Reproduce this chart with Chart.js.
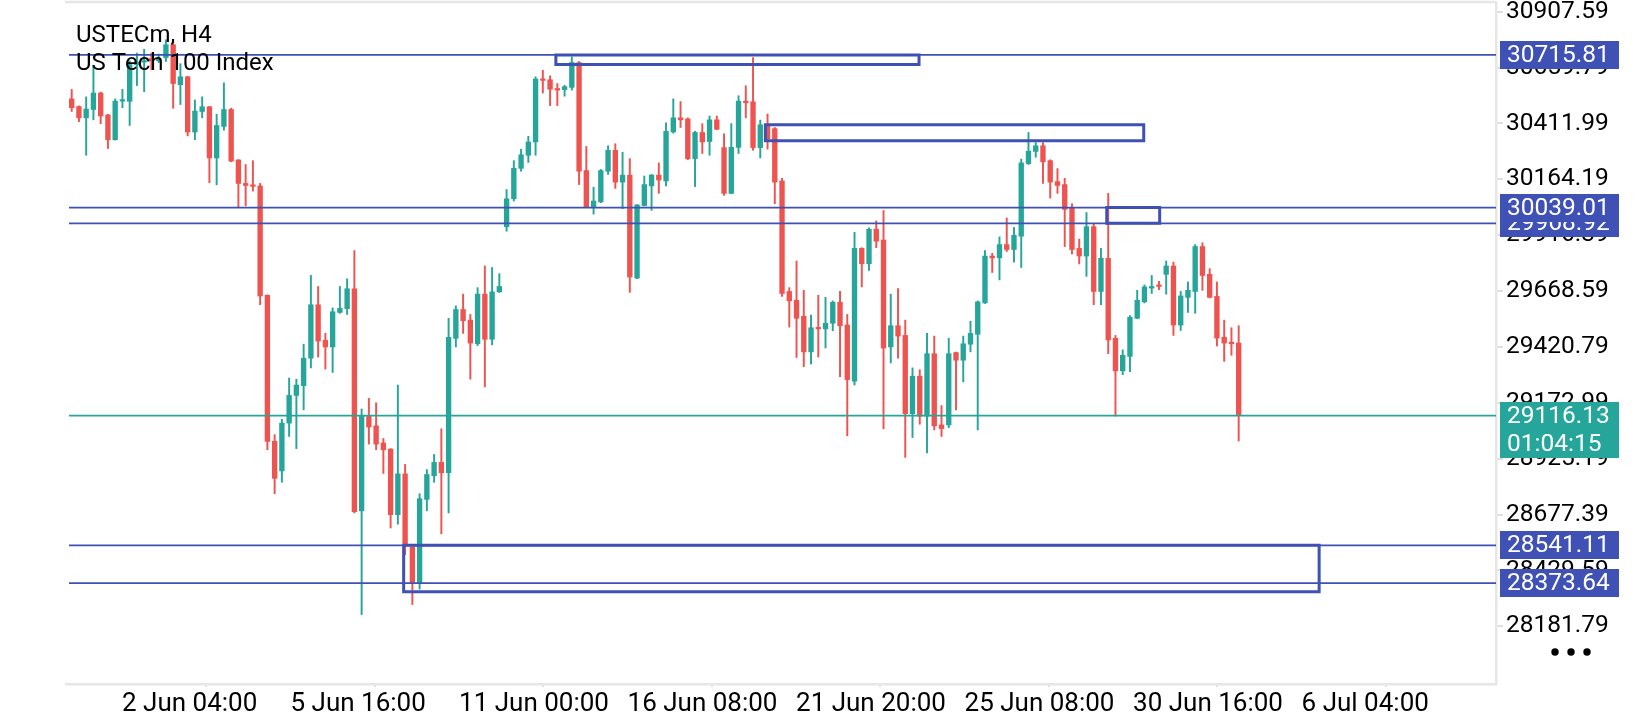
<!DOCTYPE html>
<html>
<head>
<meta charset="utf-8">
<script src="https://cdn.jsdelivr.net/npm/chart.js@4.4.1/dist/chart.umd.min.js"></script>
<style>
html,body{margin:0;padding:0;background:#fff;overflow:hidden}
#wrap{width:1640px;height:720px;position:relative}
</style>
</head>
<body>
<div id="wrap"><canvas id="c" width="1640" height="720"></canvas></div>
<script>
// ---------- data ----------
const symbolTitle = "USTECm, H4";
const symbolDescription = "US Tech 100 Index";

const opens = [30521,30487,30437,30474,30547,30450,30340,30511,30510,30672,30684,30700,30690,30704,30761,30584,30619,30374,30465,30486,30259,30399,30474,30250,30146,30140,30135,29650,29003,28871,29083,29206,29249,29371,29608,29450,29421,29574,29591,29679,28694,29113,29071,28995,28968,28677,28858,28533,28376,28745,28850,28909,28863,29459,29587,29540,29435,29655,29455,29665,29954,30078,30213,30271,30330,30609,30606,30567,30562,30572,30682,30203,30042,30064,30200,30293,30152,30183,29726,30048,30135,30183,30157,30374,30437,30432,30256,30372,30332,30428,30305,30102,30306,30511,30508,30305,30403,30389,30157,29667,29628,29557,29399,29506,29501,29526,29619,29518,29269,29858,29790,29943,29895,29421,29515,29472,29125,29291,29114,29391,29075,29075,29396,29362,29433,29477,29616,29824,29816,29875,29853,29912,30234,30288,30313,30247,30154,30141,30039,29858,29824,29954,29667,29814,29459,29315,29379,29548,29621,29682,29696,29743,29780,29518,29641,29667,29866,29743,29645,29464,29442,29438];
const highs = [30563,30490,30530,30665,30551,30452,30521,30563,30690,30724,30741,30724,30720,30783,30775,30677,30621,30516,30530,30488,30453,30592,30479,30252,30230,30247,30146,29652,29032,29100,29283,29278,29433,29738,29689,29481,29594,29689,29723,29848,29146,29193,29173,29015,28970,29252,28900,28535,28770,28877,28944,29058,29548,29603,29655,29565,29684,29780,29773,29746,30119,30247,30298,30355,30619,30648,30623,30589,30581,30707,30687,30310,30129,30208,30313,30322,30284,30256,30052,30179,30186,30237,30415,30521,30509,30437,30377,30411,30445,30445,30366,30411,30535,30579,30704,30427,30454,30394,30169,29684,29802,29672,29562,29650,29641,29625,29667,29565,29929,29861,29949,29980,30026,29655,29680,29540,29328,29320,29481,29469,29161,29459,29398,29469,29535,29625,29848,29836,29909,29993,29951,30254,30372,30327,30327,30251,30212,30169,30056,29899,30017,29966,29858,30102,29472,29408,29560,29672,29696,29738,29712,29802,29797,29667,29709,29875,29883,29768,29709,29540,29506,29515];
const lows = [30465,30420,30271,30428,30411,30301,30338,30482,30403,30580,30553,30650,30682,30687,30479,30496,30357,30340,30437,30149,30140,30382,30242,30039,30047,30112,29608,28965,28770,28821,29024,28970,29142,29328,29376,29323,29308,29570,29565,28685,28234,28990,28965,28860,28618,28635,28499,28279,28347,28694,28821,28592,28685,29421,29481,29278,29427,29244,29430,29663,29934,30068,30200,30239,30271,30547,30491,30491,30533,30560,30141,30039,30010,30061,30186,30124,30034,29663,29724,30046,30027,30102,30135,30369,30394,30251,30132,30279,30271,30384,30093,30100,30279,30437,30293,30259,30298,30056,29645,29509,29374,29333,29345,29376,29416,29493,29289,29027,29252,29687,29760,29861,29058,29350,29371,28931,29019,29078,28951,29053,29024,29063,29142,29266,29399,29053,29614,29751,29718,29844,29797,29773,30230,30262,30146,30081,30102,29866,29833,29789,29734,29608,29608,29391,29114,29298,29311,29546,29616,29658,29675,29655,29472,29494,29574,29570,29672,29638,29425,29357,29384,29004];
const closes = [30482,30437,30476,30547,30445,30340,30511,30513,30673,30684,30690,30690,30700,30761,30589,30619,30374,30467,30486,30259,30403,30474,30245,30146,30137,30133,29647,29002,28838,29083,29206,29252,29371,29608,29447,29421,29577,29592,29679,28690,29117,29066,28990,28965,28677,28858,28542,28376,28748,28855,28909,28863,29464,29587,29537,29438,29655,29455,29665,29689,30078,30213,30273,30330,30609,30603,30564,30560,30575,30682,30200,30042,30068,30203,30293,30152,30183,29731,30051,30141,30183,30161,30377,30437,30428,30256,30372,30330,30428,30386,30102,30306,30511,30504,30305,30406,30344,30152,29658,29625,29548,29399,29506,29501,29526,29619,29515,29276,29858,29790,29943,29890,29416,29515,29469,29125,29291,29114,29391,29071,29059,29391,29362,29435,29481,29621,29824,29816,29875,29853,29916,30237,30289,30313,30242,30152,30137,30031,29853,29824,29954,29667,29814,29452,29315,29384,29553,29628,29687,29689,29689,29780,29518,29647,29672,29866,29738,29641,29460,29438,29435,29116.13];

// price-axis tick labels
const yTickValues = [30907.59,30659.79,30411.99,30164.19,29916.39,29668.59,29420.79,29172.99,28925.19,28677.39,28429.59,28181.79];
// time-axis labels and the bar they sit on
const xTickLabels = ["2 Jun 04:00","5 Jun 16:00","11 Jun 00:00","16 Jun 08:00","21 Jun 20:00","25 Jun 08:00","30 Jun 16:00","6 Jul 04:00"];
const xTickBars = [6.94,30.19,53.44,76.69,99.93,123.18,146.43,169.68];

// horizontal levels (blue) and their axis labels
const levelPrices = [30715.81,30039.01,29968.92,28541.11,28373.64];
const levelLabels = ["30715.81","30039.01","29968.92","28541.11","28373.64"];
// current bid line and bar countdown
const bidPrice = 29116.13;
const bidLabel = "29116.13";
const barCountdown = "01:04:15";

// rectangle zones: start bar, end bar, upper price, lower price
const zoneStartBar = [66.8,95.7,142.8,45.8];
const zoneEndBar   = [116.9,147.9,150.1,172.1];
const zoneHigh     = [30715.81,30406,30039.01,28541.11];
const zoneLow      = [30673.5,30335,29968.92,28335];

// visible range of the chart
const xMin = -0.37, xMax = 196.5;
const yMin = 27926.2, yMax = 30950.6;

// ---------- styles ----------
const UP = '#26a69a', DOWN = '#ef5350', BLUE = '#3f51b5', TEAL = '#26a69a';
const FONT = 'Roboto';
const FRAME = '#e6e6e6';

const bodyColors = opens.map((o,i)=> closes[i] >= o ? UP : DOWN);

const datasets = [];
// wicks
datasets.push({
  type:'bar', label:'wick', order:6, grouped:false,
  data: lows.map((l,i)=>({x:i, y:[l, highs[i]]})),
  backgroundColor: bodyColors, borderWidth:0, barThickness:1.3
});
// bodies
datasets.push({
  type:'bar', label:'body', order:5, grouped:false,
  data: opens.map((o,i)=>({x:i, y:[o, closes[i]]})),
  backgroundColor: bodyColors, borderWidth:0, barThickness:4.7, minBarLength:1.5
});
// zones
zoneStartBar.forEach((s,k)=>{
  const e = zoneEndBar[k], hi = zoneHigh[k], lo = zoneLow[k];
  datasets.push({
    type:'line', label:'zone'+k, order:2,
    data:[{x:s,y:hi},{x:e,y:hi},{x:e,y:lo},{x:s,y:lo},{x:s,y:hi}],
    borderColor: BLUE, borderWidth:3, pointRadius:0, fill:false, tension:0,
    borderJoinStyle:'miter', borderCapStyle:'square'
  });
});
// horizontal levels
levelPrices.forEach((p,k)=>{
  datasets.push({
    type:'line', label:'level'+k, order:1,
    data:[{x:xMin,y:p},{x:xMax,y:p}],
    borderColor: BLUE, borderWidth:1.7, pointRadius:0, fill:false
  });
});
// bid line
datasets.push({
  type:'line', label:'bid', order:1,
  data:[{x:xMin,y:bidPrice},{x:xMax,y:bidPrice}],
  borderColor: TEAL, borderWidth:1.7, pointRadius:0, fill:false
});

const overlay = {
  id:'overlay',
  beforeDatasetsDraw(chart){
    const {ctx, chartArea} = chart;
    ctx.save();
    ctx.strokeStyle = FRAME;
    ctx.lineWidth = 2.5;
    ctx.beginPath();
    ctx.moveTo(chartArea.left-4, chartArea.top);
    ctx.lineTo(chartArea.right, chartArea.top);
    ctx.moveTo(chartArea.left-4, chartArea.bottom);
    ctx.lineTo(chartArea.left, chartArea.bottom);
    ctx.stroke();
    ctx.restore();
  },
  afterDraw(chart){
    const {ctx, chartArea, scales} = chart;
    const ys = scales.y;
    ctx.save();
    // title
    ctx.fillStyle = '#000';
    ctx.font = '24px ' + FONT;
    ctx.textBaseline = 'alphabetic';
    ctx.textAlign = 'left';
    ctx.fillText(symbolTitle, 76, 42);
    ctx.fillText(symbolDescription, 76, 70);
    // level labels on the price axis
    const bx = chartArea.right + 4, bw = 119, bh = 28;
    const drawOrder = [2,1,0,3,4];
    ctx.font = '24.5px ' + FONT;
    ctx.textBaseline = 'middle';
    drawOrder.forEach(k=>{
      const py = ys.getPixelForValue(levelPrices[k]);
      ctx.fillStyle = BLUE;
      ctx.fillRect(bx, Math.round(py - bh/2), bw, bh);
      ctx.fillStyle = '#fff';
      ctx.fillText(levelLabels[k], bx + 7, py + 1);
    });
    // bid label with countdown
    const by = ys.getPixelForValue(bidPrice);
    ctx.fillStyle = TEAL;
    ctx.fillRect(bx, Math.round(by - 14), bw, 56);
    ctx.fillStyle = '#fff';
    ctx.fillText(bidLabel, bx + 7, by + 1);
    ctx.fillText(barCountdown, bx + 7, by + 29);
    // menu dots
    ctx.fillStyle = '#000';
    [1555,1571,1587].forEach(cx=>{
      ctx.beginPath(); ctx.arc(cx, 652, 3.7, 0, Math.PI*2); ctx.fill();
    });
    ctx.restore();
  }
};

new Chart(document.getElementById('c').getContext('2d'), {
  type:'bar',
  data:{datasets},
  options:{
    responsive:false, animation:false, devicePixelRatio:1,
    layout:{padding:{left:69, top:2, right:0, bottom:0}},
    plugins:{legend:{display:false}, tooltip:{enabled:false}, title:{display:false}},
    scales:{
      x:{
        type:'linear', position:'bottom', min:xMin, max:xMax, offset:false,
        grid:{display:true, drawOnChartArea:false, drawTicks:true, tickLength:3, color:'#dedede', lineWidth:2},
        border:{display:true, color:FRAME, width:2.5},
        afterBuildTicks:(s)=>{ s.ticks = xTickBars.map(v=>({value:v})); },
        afterFit:(s)=>{ s.height = 36; s.paddingLeft = 0; s.paddingRight = 0; },
        ticks:{autoSkip:false, maxRotation:0, minRotation:0, align:'start', padding:2,
               color:'#000', font:{family:FONT, size:26},
               callback:(v,i)=> xTickLabels[i]}
      },
      y:{
        type:'linear', position:'right', min:yMin, max:yMax,
        grid:{display:true, drawOnChartArea:false, drawTicks:true, tickLength:7, color:'#dedede', lineWidth:2},
        border:{display:true, color:FRAME, width:2.5},
        afterBuildTicks:(s)=>{ s.ticks = yTickValues.map(v=>({value:v})); },
        afterFit:(s)=>{ s.width = 144; s.paddingTop = 0; s.paddingBottom = 0; },
        ticks:{autoSkip:false, padding:3, color:'#000', font:{family:FONT, size:24.5},
               callback:(v)=> Number(v).toFixed(2)}
      }
    }
  },
  plugins:[overlay]
});
</script>
</body>
</html>
